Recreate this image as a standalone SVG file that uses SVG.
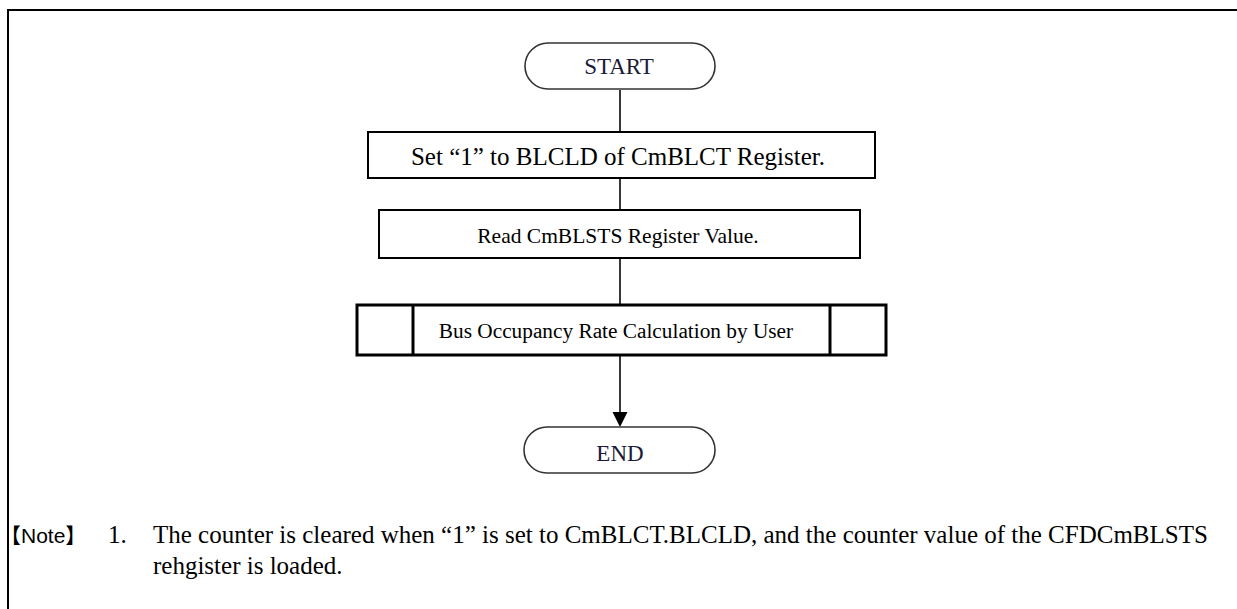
<svg xmlns="http://www.w3.org/2000/svg" width="1237" height="609" viewBox="0 0 1237 609">
<defs>
<style>
.bg{fill:#fff}
.frame{fill:none;stroke:#000;stroke-width:2}
.term{fill:#fff;stroke:#333;stroke-width:1.6}
.box{fill:#fff;stroke:#000;stroke-width:2}
.pbox{fill:#fff;stroke:#000;stroke-width:3}
.conn{fill:none;stroke:#222;stroke-width:1.8}
.t{font-family:"Liberation Serif","Times New Roman",serif;fill:#000;text-anchor:middle}
.tt{font-family:"Liberation Serif","Times New Roman",serif;fill:#1a1a3a;text-anchor:middle;font-size:23px}
.note{font-family:"Liberation Serif","Times New Roman",serif;fill:#000;font-size:25px}
.notel{font-family:"Liberation Sans",Arial,"Noto Sans CJK JP",sans-serif;fill:#000;font-size:21px}
</style>
</defs>
<rect class="bg" x="0" y="0" width="1237" height="609"/>
<path class="frame" d="M8,609 V10 H1237"/>

<g id="connectors">
<line class="conn" x1="620" y1="90" x2="620" y2="132"/>
<line class="conn" x1="620" y1="178" x2="620" y2="210"/>
<line class="conn" x1="620" y1="258" x2="620" y2="305"/>
<line class="conn" x1="620" y1="355" x2="620" y2="412"/>
<path d="M612.5,412 L627.5,412 L620,427 Z" fill="#000"/>
</g>

<g id="start">
<rect class="term" x="525" y="43" width="190" height="46" rx="23" ry="23"/>
<text class="tt" x="619" y="74">START</text>
</g>

<g id="set">
<rect class="box" x="368" y="132" width="507" height="46"/>
<text class="t" x="618" y="165" font-size="25">Set “1” to BLCLD of CmBLCT Register.</text>
</g>

<g id="read">
<rect class="box" x="379" y="210" width="481" height="48"/>
<text class="t" x="618" y="243" font-size="21.5">Read CmBLSTS Register Value.</text>
</g>

<g id="calc">
<rect class="pbox" x="357" y="305" width="529" height="50"/>
<line class="pbox" x1="413" y1="305" x2="413" y2="355"/>
<line class="pbox" x1="830" y1="305" x2="830" y2="355"/>
<text class="t" x="616" y="338" font-size="21.3">Bus Occupancy Rate Calculation by User</text>
</g>

<g id="end">
<rect class="term" x="524" y="427" width="191" height="46" rx="23" ry="23"/>
<text class="tt" x="620" y="461">END</text>
</g>

<g id="note">
<text class="notel" x="0" y="543">【Note】</text>
<text class="note" x="108" y="543">1.</text>
<text class="note" x="153" y="543">The counter is cleared when “1” is set to CmBLCT.BLCLD, and the counter value of the CFDCmBLSTS</text>
<text class="note" x="153" y="574">rehgister is loaded.</text>
</g>
</svg>
